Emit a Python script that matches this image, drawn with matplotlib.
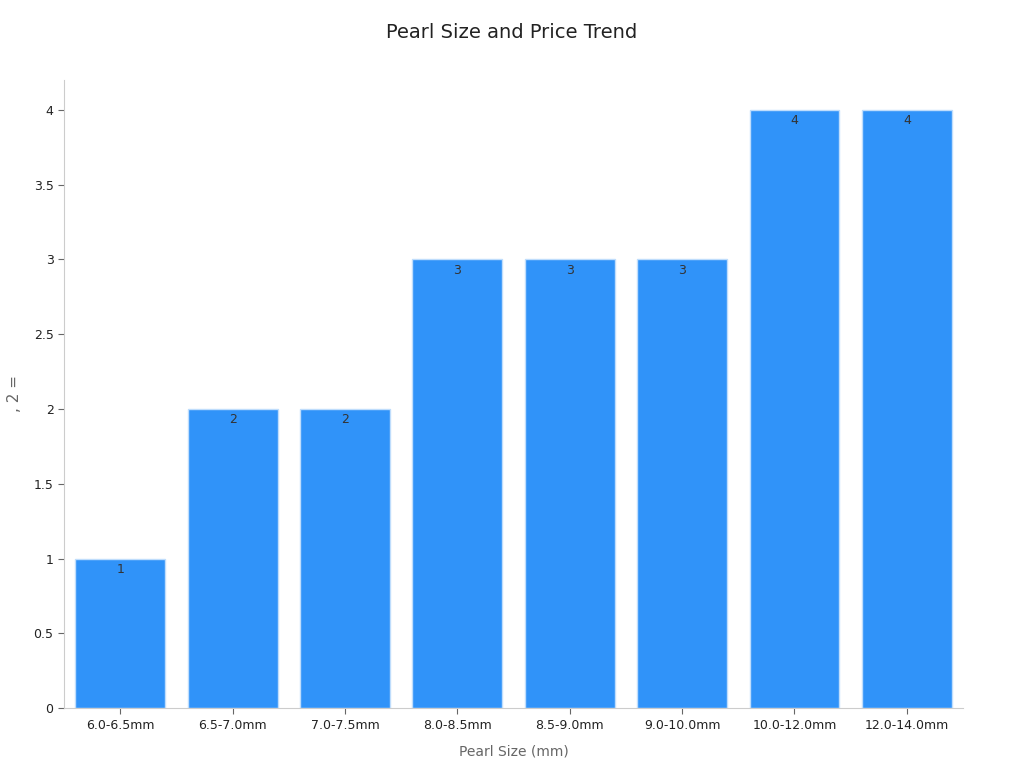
import matplotlib.pyplot as plt

sizes = ["6.0-6.5mm", "6.5-7.0mm", "7.0-7.5mm", "8.0-8.5mm",
         "8.5-9.0mm", "9.0-10.0mm", "10.0-12.0mm", "12.0-14.0mm"]
price_level = [1, 2, 2, 3, 3, 3, 4, 4]

plt.rcParams['font.family'] = ['DejaVu Sans']

fig = plt.figure(figsize=(10.24, 7.68), dpi=100)
ax = fig.add_axes([0.0625, 0.078, 0.878, 0.818])

x = range(len(sizes))
bars = ax.bar(x, price_level, width=0.8, color='#3093F9',
              edgecolor='#BFDDFC', linewidth=1)

# value labels just inside the top of each bar
for b, v in zip(bars, price_level):
    ax.text(b.get_x() + b.get_width() / 2, v - 0.03, str(v),
            ha='center', va='top', fontsize=9, color='#333333')

ax.set_xlim(-0.5, 7.5)
ax.set_ylim(0, 4.2)
ax.set_xticks(list(x))
ax.set_xticklabels(sizes)
ax.set_yticks([0, 0.5, 1, 1.5, 2, 2.5, 3, 3.5, 4])
ax.set_yticklabels(['0', '0.5', '1', '1.5', '2', '2.5', '3', '3.5', '4'])
ax.tick_params(labelsize=9, colors='#222222')
ax.tick_params(axis='both', color='#666666', length=4)

for s in ['top', 'right']:
    ax.spines[s].set_visible(False)
for s in ['left', 'bottom']:
    ax.spines[s].set_color('#CCCCCC')

ax.set_xlabel('Pearl Size (mm)', fontsize=10, color='#666666', labelpad=9)
ax.set_ylabel(', 2 =', fontsize=11, color='#666666')
ax.yaxis.set_label_coords(-0.047, 0.5)

fig.suptitle('Pearl Size and Price Trend', fontsize=14, color='#222222', y=0.97)

fig.savefig('out.png', dpi=100)
